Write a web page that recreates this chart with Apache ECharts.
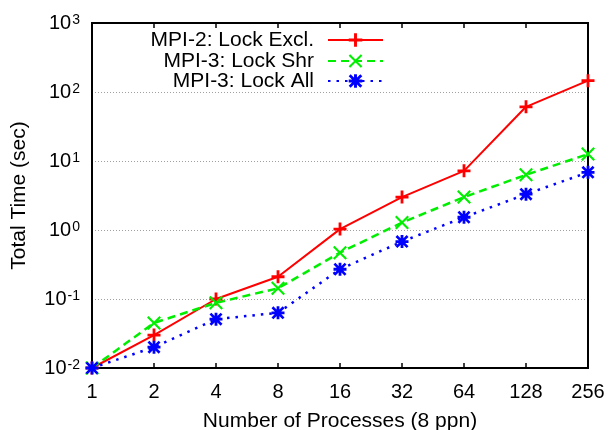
<!DOCTYPE html>
<html>
<head>
<meta charset="utf-8">
<script src="https://cdn.jsdelivr.net/npm/echarts@6/dist/echarts.min.js"></script>
<style>
  html, body { margin: 0; padding: 0; background: #fff; }
  #chart { width: 611px; height: 430px; }
</style>
</head>
<body>
<div id="chart"></div>
<script>
// x categories (number of processes)
const procs = ['1', '2', '4', '8', '16', '32', '64', '128', '256']

// total time (sec)
const lockExcl = [0.01, 0.030, 0.10, 0.21, 1.03, 3.0, 7.2, 61, 146]
const lockShr = [0.01, 0.045, 0.088, 0.143, 0.47, 1.28, 3.0, 6.3, 12.6]
const lockAll = [0.01, 0.020, 0.051, 0.063, 0.27, 0.68, 1.53, 3.3, 6.85]

const seriesNames = ['MPI-2: Lock Excl.', 'MPI-3: Lock Shr', 'MPI-3: Lock All']

// y ticks
const yLabels = [0.01, 0.1, 1, 10, 100, 1000]
const yGrid = [0.1, 1, 10, 100]
const yMinor = [0.02, 0.05, 0.2, 0.5, 2, 5, 20, 50, 200, 500]

const FONT = 'Liberation Sans'

// marker shapes
const plusPath = 'path://M-1.5,-7H1.5V-1.5H7V1.5H1.5V7H-1.5V1.5H-7V-1.5H-1.5Z'
const crossPath = 'path://M-7,-5.5L-5.5,-7L0,-1.5L5.5,-7L7,-5.5L1.5,0L7,5.5L5.5,7L0,1.5L-5.5,7L-7,5.5L-1.5,0Z'
const starPath = 'path://M-1.5,-7H1.5V-1.5H7V1.5H1.5V7H-1.5V1.5H-7V-1.5H-1.5Z' +
  'M-7,-5L-5,-7L0,-2L5,-7L7,-5L2,0L7,5L5,7L0,2L-5,7L-7,5L-2,0Z'

const chart = echarts.init(document.getElementById('chart'))

const logAxis = (extra) => Object.assign({
  type: 'log',
  logBase: 10,
  min: 0.01,
  max: 1000,
  axisLine: { show: true, lineStyle: { color: '#000', width: 2 } },
  axisLabel: { show: false },
  splitLine: { show: false },
  minorTick: { show: false }
}, extra)

// one legend per row so the line samples line up on the right
const legendAt = (name, top) => ({
  data: [name],
  orient: 'vertical',
  align: 'right',
  right: 227,
  top: top,
  padding: 0,
  itemWidth: 55,
  itemHeight: 17,
  textStyle: {
    fontFamily: FONT,
    fontSize: 21,
    color: '#000',
    lineHeight: 17,
    padding: [0, 9, 0, 0]
  }
})

const option = {
  animation: false,
  backgroundColor: '#fff',
  textStyle: { fontFamily: FONT },
  grid: { left: 92, right: 23, top: 23, bottom: 62, containLabel: false, outerBoundsMode: 'none' },
  legend: [
    legendAt(seriesNames[0], 29.5),
    legendAt(seriesNames[1], 50.5),
    legendAt(seriesNames[2], 70.5)
  ],
  xAxis: [
    {
      type: 'category',
      data: procs,
      boundaryGap: false,
      position: 'bottom',
      name: 'Number of Processes (8 ppn)',
      nameLocation: 'middle',
      nameGap: 43,
      nameTextStyle: { fontFamily: FONT, fontSize: 21, color: '#000' },
      axisLine: { lineStyle: { color: '#000', width: 2 } },
      axisTick: { inside: true, length: 5, lineStyle: { color: '#000', width: 1.5 } },
      axisLabel: { margin: 14, fontFamily: FONT, fontSize: 20, color: '#000' },
      splitLine: { show: false }
    },
    {
      type: 'category',
      data: procs,
      boundaryGap: false,
      position: 'top',
      axisLine: { lineStyle: { color: '#000', width: 2 } },
      axisTick: { inside: true, length: 5, lineStyle: { color: '#000', width: 1.5 } },
      axisLabel: { show: false },
      splitLine: { show: false }
    }
  ],
  yAxis: [
    logAxis({
      position: 'left',
      name: 'Total Time (sec)',
      nameLocation: 'middle',
      nameGap: 62,
      nameTextStyle: { fontFamily: FONT, fontSize: 21, color: '#000' },
      axisTick: { inside: true, length: 5, customValues: yGrid, lineStyle: { color: '#000', width: 1.5 } },
      axisLabel: {
        show: true,
        margin: 12,
        customValues: yLabels,
        formatter: (v) => '{b|10}{s|' + Math.round(Math.log10(v)) + '}',
        rich: {
          b: { fontFamily: FONT, fontSize: 20, lineHeight: 20, color: '#000', verticalAlign: 'bottom', padding: [4, 0, 0, 0] },
          s: { fontFamily: FONT, fontSize: 14, lineHeight: 14, color: '#000', verticalAlign: 'top', padding: [0, 0, 0, 1] }
        }
      },
      splitLine: { show: true, lineStyle: { color: '#a0a0a0', width: 1, type: [1, 2] } }
    }),
    logAxis({
      position: 'left',
      axisTick: { inside: true, length: 3, customValues: yMinor, lineStyle: { color: '#000', width: 1.5 } }
    }),
    logAxis({
      position: 'right',
      axisTick: { inside: true, length: 5, customValues: yGrid, lineStyle: { color: '#000', width: 1.5 } }
    }),
    logAxis({
      position: 'right',
      axisTick: { inside: true, length: 3, customValues: yMinor, lineStyle: { color: '#000', width: 1.5 } }
    })
  ],
  series: [
    {
      name: seriesNames[0],
      type: 'line',
      data: lockExcl,
      color: '#ff0000',
      symbol: plusPath,
      symbolSize: 13,
      lineStyle: { width: 2, type: 'solid' },
      itemStyle: { color: '#ff0000' }
    },
    {
      name: seriesNames[1],
      type: 'line',
      data: lockShr,
      color: '#00ee00',
      symbol: crossPath,
      symbolSize: 14,
      lineStyle: { width: 2.5, type: [8, 5] },
      itemStyle: { color: '#00ee00' }
    },
    {
      name: seriesNames[2],
      type: 'line',
      data: lockAll,
      color: '#0000ff',
      symbol: starPath,
      symbolSize: 13,
      lineStyle: { width: 2.5, type: [2.5, 6] },
      itemStyle: { color: '#0000ff' }
    }
  ]
}

chart.setOption(option)
</script>
</body>
</html>
